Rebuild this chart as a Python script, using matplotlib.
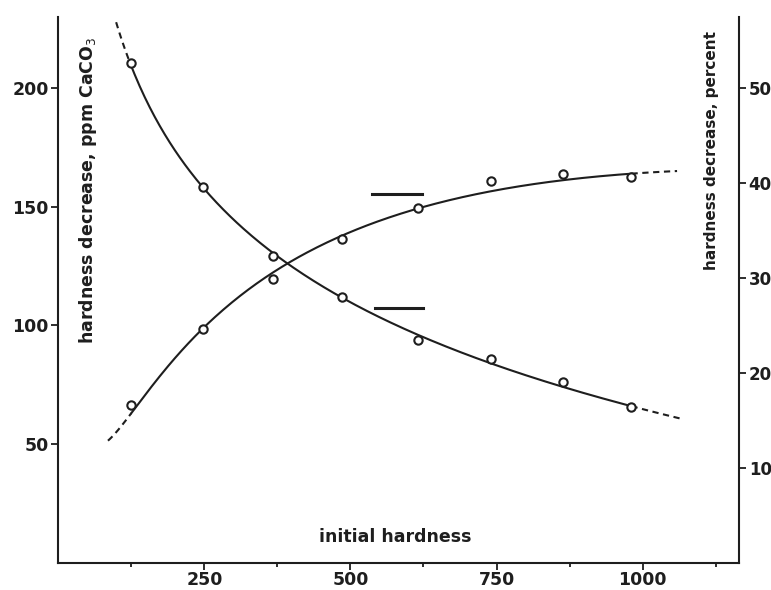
import numpy as np
import matplotlib
matplotlib.use("Agg")
import matplotlib.pyplot as plt

# ---- data ----
initial_hardness = [125, 248, 368, 486, 616, 741, 863, 981]
decrease_ppm = [66.3, 98.4, 119.5, 136.4, 149.7, 160.7, 163.8, 162.4]
decrease_pct = [52.6, 39.6, 32.3, 28.0, 23.5, 21.5, 19.0, 16.4]

# dashed extrapolation end points of the fitted curves
ppm_ext_x = [85, 1059]
ppm_ext_y = [51.0, 164.5]
pct_ext_x = [99, 1065]
pct_ext_y = [56.9, 15.1]

# horizontal indicator bars (x start, x end, y on the left axis)
bar_upper = (537, 622, 155.6)
bar_lower = (542, 624, 107.5)

xticks = [250, 500, 750, 1000]
xminor = [125, 375, 625, 875, 1125]
left_ticks = [50, 100, 150, 200]
right_ticks = [10, 20, 30, 40, 50]

fig = plt.figure(figsize=(7.71, 5.90), dpi=100)
ax = fig.add_axes([0.0756, 0.0463, 0.9585 - 0.0756, 0.9712 - 0.0463])
ax2 = ax.twinx()

ax.set_xlim(0, 1165)
ax.set_ylim(0, 230)
ax2.set_ylim(0, 57.5)

ink = "#1e1e1e"
lw = 1.5


def fitted(xs, ys, ex, ey, deg=3):
    xs = np.asarray(xs, float)
    ys = np.asarray(ys, float)
    allx = np.concatenate([xs, ex])
    ally = np.concatenate([ys, ey])
    w = np.concatenate([np.ones(len(xs)), np.full(len(ex), 2.0)])
    p = np.polyfit(np.log(allx), ally, deg, w=w)
    return lambda x: np.polyval(p, np.log(x))


f_ppm = fitted(initial_hardness, decrease_ppm, ppm_ext_x, ppm_ext_y)
f_pct = fitted(initial_hardness, decrease_pct, pct_ext_x, pct_ext_y)

x0, x1 = initial_hardness[0], initial_hardness[-1]
xs_solid = np.linspace(x0, x1, 300)
dash = (0, (3, 2.2))

# ppm curve on left axis
ax.plot(xs_solid, f_ppm(xs_solid), color=ink, lw=lw)
xd = np.linspace(ppm_ext_x[0], x0, 30)
ax.plot(xd, f_ppm(xd), color=ink, lw=lw, ls=dash)
xd = np.linspace(x1, ppm_ext_x[1], 30)
ax.plot(xd, f_ppm(xd), color=ink, lw=lw, ls=dash)
ax.plot(initial_hardness, decrease_ppm, ls="none", marker="o", ms=6,
        mfc="white", mec=ink, mew=1.5, zorder=5)

# percent curve on right axis
ax2.plot(xs_solid, f_pct(xs_solid), color=ink, lw=lw)
xd = np.linspace(pct_ext_x[0], x0, 30)
ax2.plot(xd, f_pct(xd), color=ink, lw=lw, ls=dash)
xd = np.linspace(x1, pct_ext_x[1], 30)
ax2.plot(xd, f_pct(xd), color=ink, lw=lw, ls=dash)
ax2.plot(initial_hardness, decrease_pct, ls="none", marker="o", ms=6,
         mfc="white", mec=ink, mew=1.5, zorder=5)

# indicator bars
for b in (bar_upper, bar_lower):
    ax.plot([b[0], b[1]], [b[2], b[2]], color=ink, lw=2.2)

# spines
for a in (ax, ax2):
    a.spines["top"].set_visible(False)
    for s in ("left", "right", "bottom"):
        a.spines[s].set_color(ink)
        a.spines[s].set_linewidth(1.5)
ax.spines["right"].set_visible(False)
ax2.spines["left"].set_visible(False)
ax2.spines["bottom"].set_visible(False)

tick_font = dict(fontsize=12.5, fontweight="bold", family="DejaVu Sans")
rtick_font = dict(fontsize=12, fontweight="bold", family="DejaVu Sans")

ax.set_xticks(xticks)
ax.set_xticks(xminor, minor=True)
ax.set_xticklabels([str(t) for t in xticks], **tick_font, color=ink)
ax.set_yticks(left_ticks)
ax.set_yticklabels([str(t) for t in left_ticks], **tick_font, color=ink)
ax2.set_yticks(right_ticks)
ax2.set_yticklabels([str(t) for t in right_ticks], **rtick_font, color=ink)

ax.tick_params(axis="x", which="major", direction="out", length=5, width=1.3,
               pad=1, color=ink)
ax.tick_params(axis="x", which="minor", direction="out", length=3, width=1.3,
               color=ink)
ax.tick_params(axis="y", direction="out", length=5, width=1.3, pad=2, color=ink)
ax2.tick_params(axis="y", direction="out", length=5, width=1.3, pad=2, color=ink)

# labels placed inside the frame as in the reference
ax.text(0.043, 0.683, "hardness decrease, ppm CaCO$_3$", transform=ax.transAxes,
        rotation=90, ha="center", va="center", fontsize=12.5, color=ink,
        fontweight="bold")
ax.text(0.959, 0.756, "hardness decrease, percent", transform=ax.transAxes,
        rotation=90, ha="center", va="center", fontsize=11, color=ink,
        fontweight="bold")
ax.text(0.495, 0.047, "initial hardness", transform=ax.transAxes,
        ha="center", va="center", fontsize=12.5, color=ink, fontweight="bold")

fig.savefig("out.png", dpi=100, facecolor="white")
